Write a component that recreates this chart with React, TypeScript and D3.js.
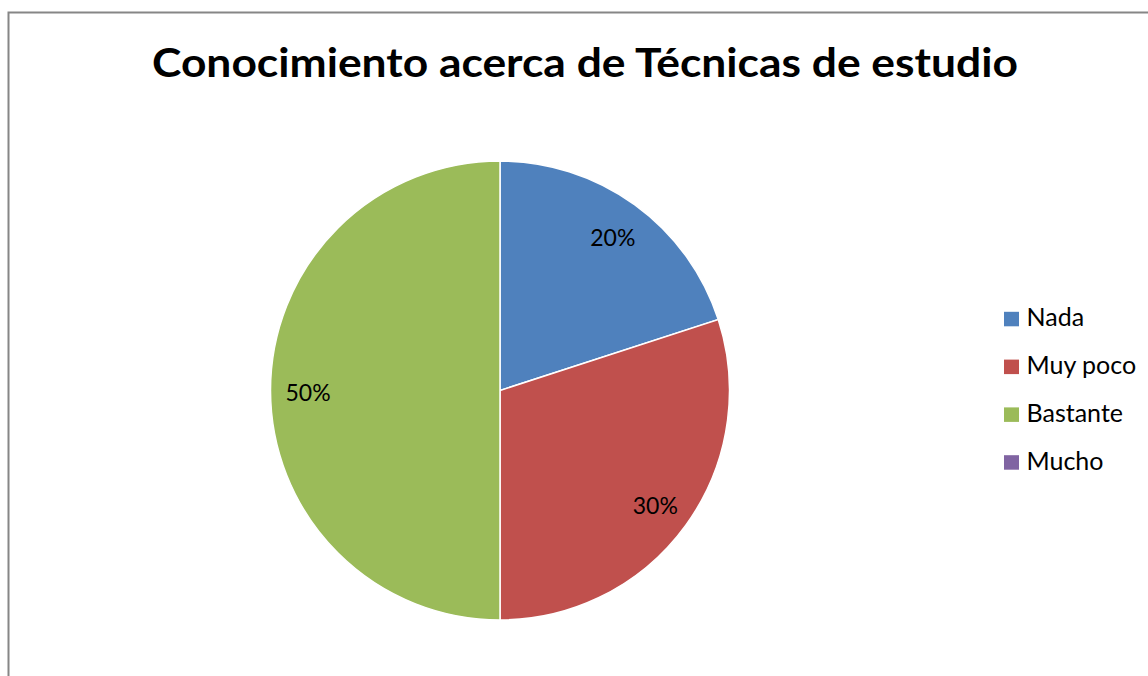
import React, { useEffect } from "react";
import * as d3 from "d3";

const categories = ["Nada", "Muy poco", "Bastante", "Mucho"];
const values = [20, 30, 50, 0];
const colors = ["#4F81BD", "#C0504D", "#9BBB59", "#8064A2"];
const title = "Conocimiento acerca de Técnicas de estudio";

export default function App() {
  useEffect(() => {
    document.body.style.margin = "0";
    document.body.style.overflow = "hidden";
  }, []);

  const W = 1148;
  const H = 676;
  const cx = 500;
  const cy = 390.5;
  const R = 229.5;
  const font = "Lato, 'Open Sans', sans-serif";

  const pie = d3.pie<number>().value((d) => d).sort(null);
  const arcs = pie(values);
  const arc = d3.arc<d3.PieArcDatum<number>>().innerRadius(0).outerRadius(R);
  const labelArc = d3.arc<d3.PieArcDatum<number>>().innerRadius(192).outerRadius(192);
  const total = d3.sum(values);

  const legendY = d3.scalePoint<string>().domain(categories).range([319, 462.4]);

  return (
    <svg width={W} height={H} style={{ display: "block", background: "#fff" }}>
      <rect x={8.5} y={12.5} width={W + 10} height={H + 10} fill="#fff" stroke="#868686" strokeWidth={2} />
      <text
        x={585}
        y={77}
        textAnchor="middle"
        fontFamily={font}
        fontWeight="bold"
        fontSize={41}
        fill="#000"
        textLength={866}
        lengthAdjust="spacingAndGlyphs"
      >
        {title}
      </text>
      <g transform={`translate(${cx},${cy})`}>
        {arcs.map((a, i) =>
          a.value > 0 ? (
            <path key={i} d={arc(a) || ""} fill={colors[i]} stroke="#fff" strokeWidth={1.5} />
          ) : null
        )}
        {arcs.map((a, i) => {
          if (a.value <= 0) return null;
          const [x, y] = labelArc.centroid(a);
          return (
            <text key={"l" + i} x={x} y={y} dy="0.45em" textAnchor="middle" fontFamily={font} fontSize={23} fill="#000">
              {Math.round((a.value / total) * 100)}%
            </text>
          );
        })}
      </g>
      {categories.map((c, i) => (
        <g key={c} transform={`translate(1004,${legendY(c)})`}>
          <rect x={0} y={-7.2} width={15} height={14.5} fill={colors[i]} />
          <text x={22.5} y={7.4} fontFamily={font} fontSize={25} fill="#000">
            {c}
          </text>
        </g>
      ))}
    </svg>
  );
}
